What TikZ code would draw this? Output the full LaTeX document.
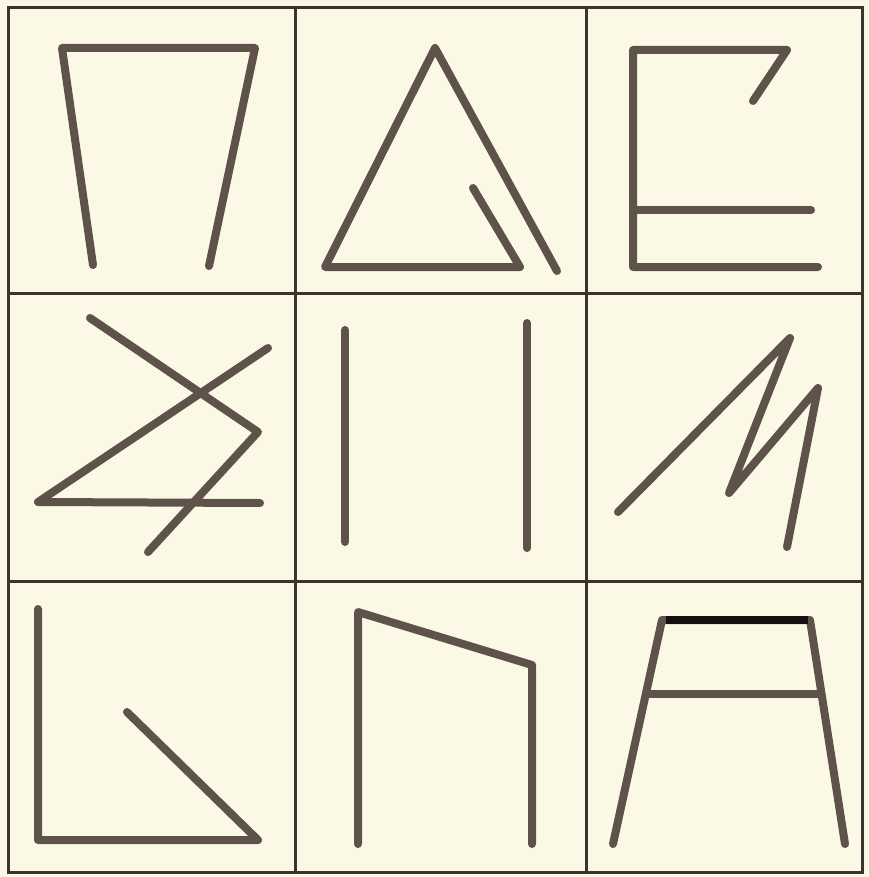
\documentclass[tikz,border=0pt]{standalone}
\usepackage{tikz}
\usepackage{xcolor}
\definecolor{paper}{HTML}{FBF9E6}
\definecolor{ink}{HTML}{5E524A}
\definecolor{rule}{HTML}{3B342C}
\definecolor{dark}{HTML}{141210}
\tikzset{
  gridline/.style={draw=rule,line width=3pt},
  stroke/.style={draw=ink,line width=8pt,line cap=round,line join=round},
  heavy/.style={draw=dark,line width=8pt,line cap=butt}
}
\begin{document}
\begin{tikzpicture}[x=1pt,y=-1pt]
  \fill[paper] (0,0) rectangle (868,877);
  \useasboundingbox (0,0) rectangle (868,877);
  % grid
  \draw[gridline] (8,8) rectangle (862,872);
  \draw[gridline] (295,8) -- (295,872);
  \draw[gridline] (586,8) -- (586,872);
  \draw[gridline] (8,293) -- (862,293);
  \draw[gridline] (8,581) -- (862,581);
  % row 1
  \draw[stroke] (93,265) -- (62,48) -- (255,48) -- (209,266);
  \draw[stroke] (473,188) -- (520,267) -- (325,267) -- (435,48) -- (557,271);
  \draw[stroke] (753,101) -- (787,50) -- (633,50) -- (633,267) -- (818,267);
  \draw[stroke] (633,210) -- (811,210);
  % row 2
  \draw[stroke] (90,318) -- (258,432) -- (148,552);
  \draw[stroke] (268,348) -- (38,502) -- (260,503);
  \draw[stroke] (345,330) -- (345,542);
  \draw[stroke] (527,323) -- (527,548);
  \draw[stroke] (618,512) -- (790,338) -- (729,493) -- (818,388) -- (787,547);
  % row 3
  \draw[stroke] (38,609) -- (38,840) -- (258,840) -- (127,712);
  \draw[stroke] (358,844) -- (358,612) -- (532,665) -- (532,844);
  \draw[stroke] (613,844) -- (662,620) -- (810,620) -- (845,844);
  \draw[stroke] (647,694) -- (821,694);
  \draw[heavy] (666,620) -- (808,620);
\end{tikzpicture}
\end{document}
